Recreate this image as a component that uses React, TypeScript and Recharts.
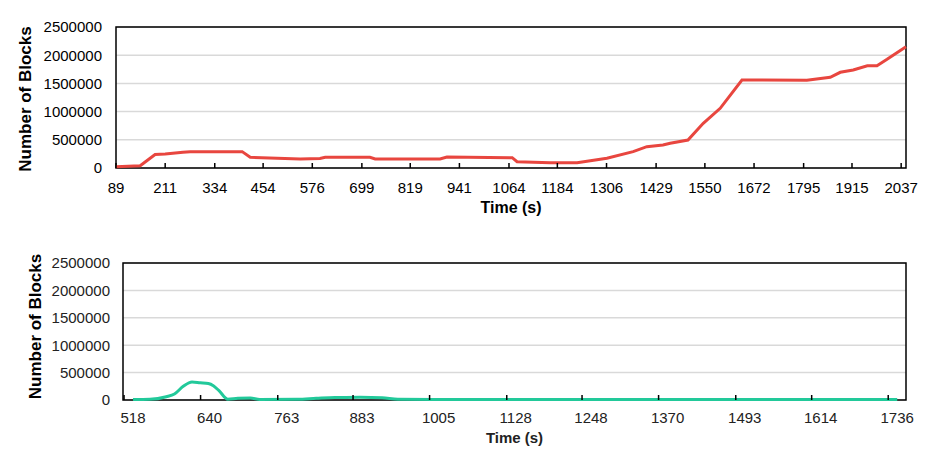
import React from 'react';
import { LineChart, Line, XAxis, YAxis, CartesianGrid, ReferenceArea, Label } from 'recharts';

const FONT = '"Liberation Sans", Arial, Helvetica, sans-serif';

// Top chart
const topTimes = [89, 149, 186, 211, 255, 273, 402, 422, 546, 595, 608, 719, 732, 893, 910, 1072, 1084, 1166, 1233, 1307, 1372, 1406, 1446, 1464, 1508, 1546, 1588, 1642, 1803, 1861, 1886, 1918, 1953, 1977, 2002, 2049];
const topBlocks = [20000, 40000, 240000, 250000, 280000, 290000, 290000, 190000, 160000, 170000, 190000, 190000, 160000, 160000, 195000, 183000, 112000, 94000, 94000, 172000, 290000, 378000, 408000, 438000, 496000, 792000, 1058000, 1560000, 1555000, 1608000, 1697000, 1738000, 1814000, 1814000, 1927000, 2150000];
const topTicks = [89, 211, 334, 454, 576, 699, 819, 941, 1064, 1184, 1306, 1429, 1550, 1672, 1795, 1915, 2037];

// Bottom chart
const bottomTimes = [518, 545, 571, 584, 598, 612, 625, 638, 646, 655, 669, 685, 705, 720, 780, 810, 840, 880, 915, 940, 1000, 1100, 1200, 1300, 1400, 1500, 1600, 1736];
const bottomBlocks = [8000, 12000, 60000, 110000, 250000, 330000, 315000, 300000, 260000, 170000, 15000, 30000, 35000, 10000, 12000, 30000, 45000, 48000, 40000, 12000, 8000, 8000, 8000, 8000, 8000, 8000, 8000, 8000];
const bottomTicks = [518, 640, 763, 883, 1005, 1128, 1248, 1370, 1493, 1614, 1736];

const yTicks = [0, 500000, 1000000, 1500000, 2000000, 2500000];

const topData = topTimes.map((t, i) => ({ t, v: topBlocks[i] }));
const bottomData = bottomTimes.map((t, i) => ({ t, v: bottomBlocks[i] }));

const makeXTick = (markOffset: number, labelDy: number, fill: string) => (props: any) => {
  const { x, y, payload } = props;
  return (
    <g>
      <line x1={x + markOffset} x2={x + markOffset} y1={y - 5} y2={y} stroke="#000" strokeWidth={1.5} />
      <text x={x} y={y + labelDy} textAnchor="middle" dominantBaseline="central" fontSize={15} fontFamily={FONT} fill={fill}>
        {payload.value}
      </text>
    </g>
  );
};

const makeYTitle = (cx: number, dyc: number, fill: string) => (props: any) => {
  const vb = props.viewBox || {};
  const cy = (vb.y || 0) + (vb.height || 0) / 2 + dyc;
  return (
    <text x={cx} y={cy} transform={`rotate(-90, ${cx}, ${cy})`} textAnchor="middle" dominantBaseline="central" fontSize={17} fontWeight="bold" fontFamily={FONT} fill={fill}>
      Number of Blocks
    </text>
  );
};

const makeXTitle = (dy: number, size: number, fill: string) => (props: any) => {
  const vb = props.viewBox || {};
  const cx = (vb.x || 0) + (vb.width || 0) / 2;
  const cy = (vb.y || 0) + dy;
  return (
    <text x={cx} y={cy} textAnchor="middle" dominantBaseline="central" fontSize={size} fontWeight="bold" fontFamily={FONT} fill={fill}>
      Time (s)
    </text>
  );
};

export default function App() {
  return (
    <div style={{ position: 'absolute', left: 0, top: 0, width: 935, height: 466, background: '#fff' }}>
      <div style={{ position: 'absolute', left: 0, top: 0 }}>
        <LineChart width={935} height={233} data={topData} margin={{ top: 27, right: 29, left: 0, bottom: 0 }}>
          <CartesianGrid horizontal vertical={false} stroke="#d9d9d9" strokeWidth={1.5} />
          <XAxis
            dataKey="t"
            type="number"
            domain={[89, 2049]}
            ticks={topTicks}
            interval={0}
            height={65}
            tickSize={0}
            tickMargin={0}
            tickLine={false}
            axisLine={false}
            tick={makeXTick(0, 19, '#000')}
          >
            <Label content={makeXTitle(39, 16, '#000')} />
          </XAxis>
          <YAxis
            type="number"
            domain={[0, 2500000]}
            ticks={yTicks}
            width={116}
            tickSize={0}
            tickMargin={14}
            tickLine={false}
            axisLine={false}
            tick={{ fontSize: 15, fill: '#000', fontFamily: FONT }}
          >
            <Label content={makeYTitle(25, 1.5, '#000')} />
          </YAxis>
          <ReferenceArea x1={89} x2={2049} y1={0} y2={2500000} fill="none" fillOpacity={0} stroke="#000" strokeWidth={1.5} />
          <Line type="linear" dataKey="v" stroke="#e8463f" strokeWidth={3} dot={false} isAnimationActive={false} />
        </LineChart>
      </div>
      <div style={{ position: 'absolute', left: 0, top: 233 }}>
        <LineChart width={935} height={233} data={bottomData} margin={{ top: 30, right: 29, left: 0, bottom: 0 }}>
          <CartesianGrid horizontal vertical={false} stroke="#d9d9d9" strokeWidth={1.5} />
          <XAxis
            dataKey="t"
            type="number"
            domain={[502, 1750]}
            ticks={bottomTicks}
            interval={0}
            height={66}
            tickSize={0}
            tickMargin={0}
            tickLine={false}
            axisLine={false}
            tick={makeXTick(-9, 17, '#222')}
          >
            <Label content={makeXTitle(37, 15, '#222')} />
          </XAxis>
          <YAxis
            type="number"
            domain={[0, 2500000]}
            ticks={yTicks}
            width={123}
            tickSize={0}
            tickMargin={13}
            tickLine={false}
            axisLine={false}
            tick={{ fontSize: 15, fill: '#222', fontFamily: FONT }}
          >
            <Label content={makeYTitle(35, -5, '#000')} />
          </YAxis>
          <ReferenceArea x1={502} x2={1750} y1={0} y2={2500000} fill="none" fillOpacity={0} stroke="#000" strokeWidth={1.5} />
          <Line type="monotone" dataKey="v" stroke="#22c99a" strokeWidth={3} dot={false} isAnimationActive={false} />
        </LineChart>
      </div>
    </div>
  );
}
